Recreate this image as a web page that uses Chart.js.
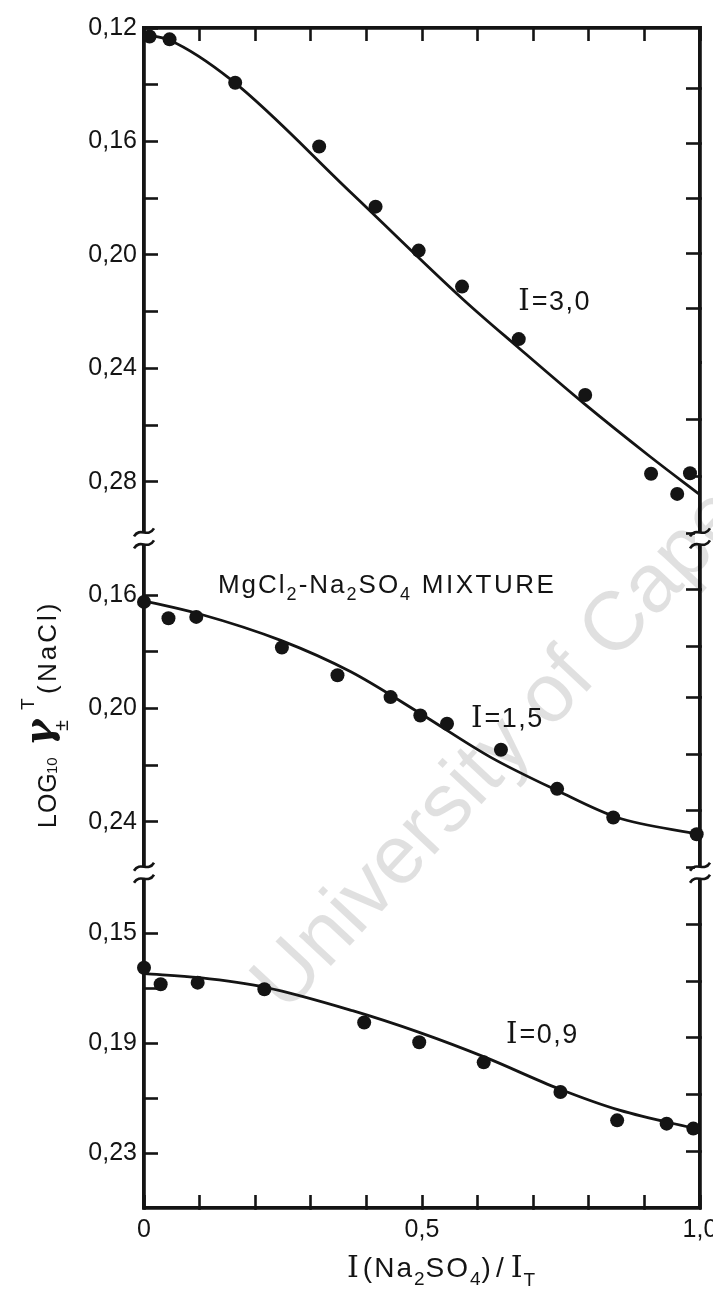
<!DOCTYPE html>
<html>
<head>
<meta charset="utf-8">
<script src="https://cdn.jsdelivr.net/npm/chart.js@4.4.0/dist/chart.umd.min.js"></script>
<style>
html,body{margin:0;padding:0;background:#fff;}
canvas{display:block;}
</style>
</head>
<body>
<canvas id="c" width="713" height="1303"></canvas>
<script>
// ---------------- DATA ----------------
const xTickValues = [0, 0.1, 0.2, 0.3, 0.4, 0.5, 0.6, 0.7, 0.8, 0.9, 1.0];
const xTickLabels = ['0', '', '', '', '', '0,5', '', '', '', '', '1,0'];

// panel I = 3,0 (top)
const topTickValues = [0.12, 0.14, 0.16, 0.18, 0.20, 0.22, 0.24, 0.26, 0.28];
const topTickLabels = ['0,12', '', '0,16', '', '0,20', '', '0,24', '', '0,28'];
const topRange = [0.12, 0.30];
const x30 = [0.01, 0.046, 0.164, 0.315, 0.4165, 0.494, 0.572, 0.674, 0.7935, 0.912, 0.959, 0.982];
const y30 = [0.123, 0.124, 0.1393, 0.1618, 0.183, 0.1985, 0.2112, 0.2297, 0.2494, 0.2772, 0.2843, 0.277];
const fit30x = [0, 0.046, 0.157, 0.372, 0.575, 0.671, 0.79, 0.91, 1.0];
const fit30y = [0.1222, 0.1243, 0.1383, 0.178, 0.2159, 0.2323, 0.2522, 0.2711, 0.2846];

// panel I = 1,5 (middle)
const midTickValues = [0.16, 0.18, 0.20, 0.22, 0.24];
const midTickLabels = ['0,16', '', '0,20', '', '0,24'];
const midRange = [0.14, 0.258];
const x15 = [0.0, 0.044, 0.094, 0.248, 0.348, 0.4435, 0.497, 0.545, 0.642, 0.743, 0.844, 0.994];
const y15 = [0.1624, 0.1682, 0.1677, 0.1785, 0.1883, 0.196, 0.2025, 0.2054, 0.2146, 0.2284, 0.2385, 0.2444];
const fit15x = [0, 0.097, 0.246, 0.372, 0.497, 0.623, 0.743, 0.851, 1.0];
const fit15y = [0.1620, 0.1665, 0.176, 0.1871, 0.2018, 0.2172, 0.229, 0.2385, 0.2445];

// panel I = 0,9 (bottom)
const botTickValues = [0.15, 0.17, 0.19, 0.21, 0.23];
const botTickLabels = ['0,15', '', '0,19', '', '0,23'];
const botRange = [0.128, 0.25];
const x09 = [0.0, 0.03, 0.0965, 0.2165, 0.396, 0.495, 0.611, 0.749, 0.851, 0.94, 0.988];
const y09 = [0.1626, 0.1686, 0.168, 0.1704, 0.1825, 0.1897, 0.197, 0.2078, 0.2181, 0.2193, 0.2211];
const fit09x = [0, 0.1, 0.22, 0.375, 0.495, 0.614, 0.746, 0.855, 1.0];
const fit09y = [0.1647, 0.1662, 0.1698, 0.1782, 0.1861, 0.1952, 0.2066, 0.2144, 0.2215];

// ---------------- STYLE ----------------
const INK = '#141414';
const SANS = "'Liberation Sans', Arial, Helvetica, sans-serif";
const SERIF = "'DejaVu Serif', 'Liberation Serif', serif";
const AXIS_W = 3.8;
const TICK_LEN = -14;

function pts(xs, ys) { return xs.map((x, i) => ({ x: x, y: ys[i] })); }
function labelFor(v, vals, labs) {
  const i = vals.findIndex(t => Math.abs(t - v) < 1e-9);
  return i < 0 ? '' : labs[i];
}

function makeY(range, vals, labs, weight, position) {
  const left = position === 'left';
  return {
    type: 'linear', position: position, stack: left ? 'L' : 'R', stackWeight: weight,
    min: range[0], max: range[1], reverse: true,
    border: { display: true, color: INK, width: AXIS_W },
    grid: { drawOnChartArea: false, drawTicks: true, tickLength: TICK_LEN, tickWidth: 2.6, tickColor: INK },
    ticks: {
      display: left, padding: 21, color: INK, autoSkip: false, maxRotation: 0,
      font: { family: SANS, size: 25 },
      callback: (v) => labelFor(v, vals, labs)
    },
    afterBuildTicks: (s) => { s.ticks = vals.map(v => ({ value: v })); },
    afterFit: (s) => { s.width = left ? 144 : 13; s.paddingTop = 0; s.paddingBottom = 0; }
  };
}

function makeX(position) {
  const bottom = position === 'bottom';
  return {
    type: 'linear', position: position, min: 0, max: 1,
    border: { display: true, color: INK, width: AXIS_W },
    grid: { drawOnChartArea: false, drawTicks: true, tickLength: -13, tickWidth: 2.6, tickColor: INK },
    ticks: {
      display: bottom, padding: 20, color: INK, autoSkip: false, maxRotation: 0,
      font: { family: SANS, size: 25 },
      callback: (v) => labelFor(v, xTickValues, xTickLabels)
    },
    afterBuildTicks: (s) => { s.ticks = xTickValues.map(v => ({ value: v })); },
    afterFit: (s) => { s.height = bottom ? 95 : 28; s.paddingLeft = 0; s.paddingRight = 0; }
  };
}

const pointStyle = { pointRadius: 7, pointBackgroundColor: INK, pointBorderColor: INK, pointBorderWidth: 0, showLine: false, clip: false };
const lineStyle = { showLine: true, pointRadius: 0, borderColor: INK, borderWidth: 2.8, cubicInterpolationMode: 'monotone', fill: false };

// ---------------- PLUGINS ----------------
function drawParts(ctx, x, y, parts) {
  let cx = x;
  parts.forEach(p => {
    ctx.font = p.font;
    ctx.letterSpacing = (p.ls || 0) + 'px';
    ctx.fillText(p.t, cx, y + (p.dy || 0));
    cx += ctx.measureText(p.t).width + (p.gap || 0);
  });
  ctx.letterSpacing = '0px';
}

const watermark = {
  id: 'watermark',
  beforeDatasetsDraw(chart) {
    const ctx = chart.ctx;
    ctx.save();
    ctx.translate(286, 1014);
    ctx.rotate(-47 * Math.PI / 180);
    ctx.fillStyle = 'rgba(0,0,0,0.12)';
    ctx.font = `83px ${SANS}`;
    ctx.textBaseline = 'alphabetic';
    ctx.fillText('University of Cape Town', 0, 0);
    ctx.restore();
  }
};

const breaks = {
  id: 'breaks',
  afterDraw(chart) {
    const ctx = chart.ctx;
    const a = chart.chartArea;
    const ys = [chart.scales.yT.bottom, chart.scales.yM.bottom];
    ctx.save();
    ys.forEach(yb => {
      [a.left, a.right].forEach(x => {
        ctx.fillStyle = '#fff';
        ctx.fillRect(x - 5, yb - 6, 10, 12);
        ctx.strokeStyle = INK;
        ctx.lineWidth = 2.6;
        [-6, 6].forEach(d => {
          ctx.beginPath();
          ctx.moveTo(x - 10, yb + d + 4);
          ctx.bezierCurveTo(x - 4, yb + d - 6, x + 4, yb + d + 6, x + 10, yb + d - 4);
          ctx.stroke();
        });
      });
    });
    ctx.restore();
  }
};

const labels = {
  id: 'labels',
  afterDraw(chart) {
    const ctx = chart.ctx;
    const sx = chart.scales.x;
    const s = chart.scales;
    ctx.save();
    ctx.fillStyle = INK;
    ctx.textAlign = 'left';
    ctx.textBaseline = 'alphabetic';

    const big = `27px ${SANS}`;
    const sub = `18px ${SANS}`;
    const serI = `29px ${SERIF}`;

    // series labels
    drawParts(ctx, sx.getPixelForValue(0.673), s.yT.getPixelForValue(0.2194),
      [{ t: 'I', font: serI, gap: 2 }, { t: '=3,0', font: big, ls: 1.5 }]);
    drawParts(ctx, sx.getPixelForValue(0.588), s.yM.getPixelForValue(0.2067),
      [{ t: 'I', font: serI, gap: 2 }, { t: '=1,5', font: big, ls: 1.5 }]);
    drawParts(ctx, sx.getPixelForValue(0.651), s.yB.getPixelForValue(0.1898),
      [{ t: 'I', font: serI, gap: 2 }, { t: '=0,9', font: big, ls: 1.5 }]);

    // mixture label
    const mf = `26px ${SANS}`;
    drawParts(ctx, sx.getPixelForValue(0.133), s.yM.getPixelForValue(0.1593), [
      { t: 'MgCl', font: mf, ls: 2 }, { t: '2', font: sub, dy: 7, gap: 2 },
      { t: '-Na', font: mf, ls: 2 }, { t: '2', font: sub, dy: 7, gap: 2 },
      { t: 'SO', font: mf, ls: 2 }, { t: '4', font: sub, dy: 7, gap: 2 },
      { t: ' MIXTURE', font: mf, ls: 2.5 }
    ]);

    // x axis title
    const tf = `28px ${SANS}`;
    const ts = `19px ${SANS}`;
    const ti = `30px ${SERIF}`;
    drawParts(ctx, 347, 1277, [
      { t: 'I', font: ti, gap: 4 }, { t: '(Na', font: tf, ls: 2 }, { t: '2', font: ts, dy: 8, gap: 1 },
      { t: 'SO', font: tf, ls: 2 }, { t: '4', font: ts, dy: 8, gap: 1 }, { t: ')', font: tf, gap: 5 },
      { t: '/', font: tf, gap: 7 }, { t: 'I', font: ti, gap: 1 }, { t: 'T', font: ts, dy: 9 }
    ]);

    // y axis title (rotated)
    ctx.translate(56, 0);
    ctx.rotate(-Math.PI / 2);
    ctx.letterSpacing = '1px';
    ctx.font = `25px ${SANS}`; ctx.fillText('LOG', -828, 0);
    ctx.letterSpacing = '0px';
    ctx.font = `15px ${SANS}`; ctx.fillText('10', -774, 1);
    ctx.font = `bold italic 40px ${SERIF}`; ctx.fillText('γ', -746, -4);
    ctx.font = `19px ${SANS}`; ctx.fillText('T', -710, -22);
    ctx.font = `20px ${SANS}`; ctx.fillText('±', -731, 12);
    ctx.letterSpacing = '3px';
    ctx.font = `26px ${SANS}`; ctx.fillText('(', -694, 0);
    ctx.fillText('NaCl)', -682, 0);
    ctx.restore();
  }
};

// ---------------- CHART ----------------
new Chart(document.getElementById('c'), {
  type: 'scatter',
  data: {
    datasets: [
      Object.assign({ label: 'I=3,0', data: pts(x30, y30), yAxisID: 'yT' }, pointStyle),
      Object.assign({ label: 'I=3,0 fit', data: pts(fit30x, fit30y), yAxisID: 'yT' }, lineStyle),
      Object.assign({ label: 'I=1,5', data: pts(x15, y15), yAxisID: 'yM' }, pointStyle),
      Object.assign({ label: 'I=1,5 fit', data: pts(fit15x, fit15y), yAxisID: 'yM' }, lineStyle),
      Object.assign({ label: 'I=0,9', data: pts(x09, y09), yAxisID: 'yB' }, pointStyle),
      Object.assign({ label: 'I=0,9 fit', data: pts(fit09x, fit09y), yAxisID: 'yB' }, lineStyle)
    ]
  },
  options: {
    responsive: false,
    devicePixelRatio: 1,
    animation: false,
    events: [],
    layout: { padding: 0 },
    plugins: { legend: { display: false }, tooltip: { enabled: false }, title: { display: false } },
    scales: {
      x: makeX('bottom'),
      xTop: makeX('top'),
      yB: makeY(botRange, botTickValues, botTickLabels, 335, 'left'),
      yM: makeY(midRange, midTickValues, midTickLabels, 334, 'left'),
      yT: makeY(topRange, topTickValues, topTickLabels, 510, 'left'),
      rB: makeY(botRange, botTickValues, botTickLabels, 335, 'right'),
      rM: makeY(midRange, midTickValues, midTickLabels, 334, 'right'),
      rT: makeY(topRange, topTickValues, topTickLabels, 510, 'right')
    }
  },
  plugins: [watermark, breaks, labels]
});
</script>
</body>
</html>
